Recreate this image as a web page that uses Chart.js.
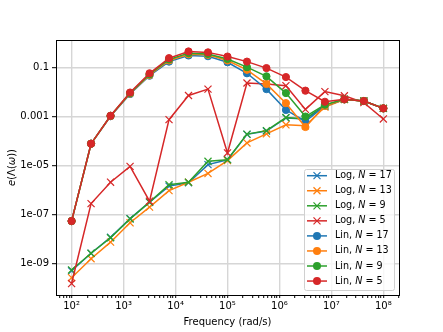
<!DOCTYPE html>
<html lang="en">
<head>
    <meta charset="UTF-8">
    <title>e(Λ(ω)) vs frequency</title>
    <script src="https://cdn.jsdelivr.net/npm/chart.js"></script>
    <style>
        html, body { margin: 0; padding: 0; background: #fff; }
        #wrap { width: 443px; height: 332px; position: relative; }
    </style>
</head>
<body>
    <div id="wrap"><canvas id="errChart" width="443" height="332"></canvas></div>

    <script>
        // Frequencies (rad/s), 17 points from 1e2 to 1e8
        const freq = [100, 237, 562, 1334, 3162, 7499, 17783, 42170, 100000, 237137, 562341,
                      1333521, 3162278, 7498942, 17782794, 42169650, 100000000];

        // Log-spaced sample sets
        const logN17 = [5.0e-10, 2.6e-9, 1.17e-8, 6.8e-8, 3.2e-7, 1.45e-6, 2.0e-6, 1.1e-5, 1.74e-5,
                        1.9e-4, 2.6e-4, 8.9e-4, 8.1e-4, 2.75e-3, 5.2e-3, 4.4e-3, 2.2e-3];
        const logN13 = [2.6e-10, 1.55e-9, 7.4e-9, 4.6e-8, 2.0e-7, 9.5e-7, 2.1e-6, 4.8e-6, 1.6e-5,
                        8.5e-5, 2.0e-4, 4.7e-4, 4.3e-4, 2.5e-3, 5.1e-3, 4.4e-3, 2.2e-3];
        const logN9  = [5.4e-10, 2.6e-9, 1.12e-8, 6.6e-8, 3.2e-7, 1.66e-6, 2.1e-6, 1.5e-5, 1.74e-5,
                        1.95e-4, 2.7e-4, 9.3e-4, 8.1e-4, 2.8e-3, 5.2e-3, 4.4e-3, 2.2e-3];
        const logN5  = [1.5e-10, 2.8e-7, 2.1e-6, 9.3e-6, 3.5e-7, 7.6e-4, 7.4e-3, 1.35e-2, 3.3e-5,
                        2.4e-2, 2.2e-2, 1.86e-2, 2.0e-3, 1.07e-2, 7.2e-3, 3.8e-3, 8.1e-4];

        // Linearly spaced sample sets
        const linN17 = [5.4e-8, 7.9e-5, 1.05e-3, 8.5e-3, 0.048, 0.18, 0.32, 0.30, 0.17,
                        0.060, 0.0135, 0.0019, 6.5e-4, 2.8e-3, 5.1e-3, 4.4e-3, 2.2e-3];
        const linN13 = [5.4e-8, 7.9e-5, 1.07e-3, 8.9e-3, 0.051, 0.20, 0.36, 0.34, 0.20,
                        0.083, 0.022, 0.0036, 3.8e-4, 2.8e-3, 5.1e-3, 4.4e-3, 2.2e-3];
        const linN9  = [5.4e-8, 7.9e-5, 1.1e-3, 9.3e-3, 0.055, 0.22, 0.40, 0.37, 0.23,
                        0.107, 0.045, 0.0093, 1.02e-3, 3.1e-3, 5.2e-3, 4.4e-3, 2.2e-3];
        const linN5  = [5.4e-8, 7.9e-5, 1.1e-3, 9.8e-3, 0.060, 0.25, 0.47, 0.43, 0.29,
                        0.18, 0.098, 0.042, 0.0117, 4.1e-3, 5.2e-3, 4.4e-3, 2.2e-3];

        // Axis ticks
        const xMajorTicks = [1e2, 1e3, 1e4, 1e5, 1e6, 1e7, 1e8];
        const xTickLabels = ['10²', '10³', '10⁴', '10⁵', '10⁶', '10⁷', '10⁸'];
        const yTicks = [1e-9, 1e-7, 1e-5, 1e-3, 1e-1];
        const yTickLabels = ['1e-09', '1e-07', '1e-05', '0.001', '0.1'];

        const BLUE = '#1f77b4', ORANGE = '#ff7f0e', GREEN = '#2ca02c', RED = '#d62728';
        const FONT = '"DejaVu Sans", sans-serif';

        // matplotlib plot order: first plotted is at the bottom
        const seriesDefs = [
            { kind: 'Log', n: 17, data: logN17, color: BLUE },
            { kind: 'Log', n: 13, data: logN13, color: ORANGE },
            { kind: 'Log', n: 9,  data: logN9,  color: GREEN },
            { kind: 'Log', n: 5,  data: logN5,  color: RED },
            { kind: 'Lin', n: 17, data: linN17, color: BLUE },
            { kind: 'Lin', n: 13, data: linN13, color: ORANGE },
            { kind: 'Lin', n: 9,  data: linN9,  color: GREEN },
            { kind: 'Lin', n: 5,  data: linN5,  color: RED }
        ];

        const datasets = seriesDefs.map((s, i) => ({
            label: s.kind + ', N = ' + s.n,
            data: freq.map((f, k) => ({ x: f, y: s.data[k] })),
            borderColor: s.color,
            backgroundColor: s.color,
            borderWidth: 1.5,
            pointStyle: s.kind === 'Log' ? 'crossRot' : 'circle',
            pointRadius: s.kind === 'Log' ? 5 : 3.6,
            pointBorderWidth: s.kind === 'Log' ? 1.2 : 1,
            pointBorderColor: s.color,
            pointBackgroundColor: s.color,
            pointHoverRadius: 0,
            fill: false,
            tension: 0,
            order: seriesDefs.length - i
        }));

        function isPow10(v) {
            const l = Math.log10(v);
            return Math.abs(l - Math.round(l)) < 1e-9;
        }

        // draws a run of [text, italic] pieces starting at x, returns end x
        function drawRuns(ctx, runs, x, y, size) {
            runs.forEach(([txt, it]) => {
                ctx.font = (it ? 'italic ' : '') + size + 'px ' + FONT;
                ctx.fillText(txt, x, y);
                x += ctx.measureText(txt).width;
            });
            return x;
        }

        // frame on all four sides, y title with math styling, legend inside the axes
        const framePlugin = {
            id: 'frameAndLegend',
            afterDraw(chart) {
                const ctx = chart.ctx;
                const a = chart.chartArea;
                ctx.save();
                ctx.strokeStyle = '#000';
                ctx.lineWidth = 1;
                ctx.strokeRect(Math.round(a.left) + 0.5, Math.round(a.top) + 0.5,
                               Math.round(a.right - a.left), Math.round(a.bottom - a.top));

                // y axis title: e(Λ(ω)) with italic e and ω
                const yRuns = [['e', true], ['(Λ(', false], ['ω', true], ['))', false]];
                ctx.fillStyle = '#000';
                ctx.textBaseline = 'middle';
                ctx.textAlign = 'left';
                let w = 0;
                yRuns.forEach(([txt, it]) => {
                    ctx.font = (it ? 'italic ' : '') + '10px ' + FONT;
                    w += ctx.measureText(txt).width;
                });
                ctx.save();
                ctx.translate(12, (a.top + a.bottom) / 2);
                ctx.rotate(-Math.PI / 2);
                drawRuns(ctx, yRuns, -w / 2, 0, 10);
                ctx.restore();

                // legend box
                const bx = 304, by = 169, bw = 90, bh = 121;
                ctx.fillStyle = 'rgba(255,255,255,0.8)';
                ctx.strokeStyle = '#d0d0d0';
                ctx.lineWidth = 1;
                ctx.beginPath();
                ctx.roundRect(bx + 0.5, by + 0.5, bw, bh, 2);
                ctx.fill();
                ctx.stroke();

                seriesDefs.forEach((s, i) => {
                    const y = 175.7 + i * 15.05;
                    ctx.strokeStyle = s.color;
                    ctx.fillStyle = s.color;
                    ctx.lineWidth = 1.5;
                    ctx.beginPath();
                    ctx.moveTo(307, y);
                    ctx.lineTo(327, y);
                    ctx.stroke();
                    if (s.kind === 'Log') {
                        const r = 3.5;
                        ctx.lineWidth = 1.2;
                        ctx.beginPath();
                        ctx.moveTo(317 - r, y - r); ctx.lineTo(317 + r, y + r);
                        ctx.moveTo(317 - r, y + r); ctx.lineTo(317 + r, y - r);
                        ctx.stroke();
                    } else {
                        ctx.beginPath();
                        ctx.arc(317, y, 4, 0, Math.PI * 2);
                        ctx.fill();
                    }
                    ctx.fillStyle = '#000';
                    ctx.textBaseline = 'middle';
                    ctx.textAlign = 'left';
                    drawRuns(ctx, [[s.kind + ', ', false], ['N', true], [' = ' + s.n, false]], 335, y, 9.6);
                });
                ctx.restore();
            }
        };

        new Chart(document.getElementById('errChart'), {
            type: 'line',
            data: { datasets: datasets },
            options: {
                responsive: false,
                animation: false,
                events: [],
                layout: { padding: { left: 12, right: 44, top: 40, bottom: 4 } },
                plugins: {
                    legend: { display: false },
                    tooltip: { enabled: false },
                    title: { display: false }
                },
                scales: {
                    x: {
                        type: 'logarithmic',
                        min: 50.1,
                        max: 2.0e8,
                        afterFit: (s) => { s.height = 33; },
                        afterBuildTicks: (s) => {
                            const t = [];
                            for (let e = 1; e <= 8; e++) {
                                for (let m = 1; m <= 9; m++) {
                                    const v = m * Math.pow(10, e);
                                    if (v >= s.min && v <= s.max) t.push({ value: v, major: m === 1 });
                                }
                            }
                            s.ticks = t;
                        },
                        ticks: {
                            autoSkip: false,
                            maxRotation: 0,
                            minRotation: 0,
                            padding: 2,
                            color: '#000',
                            font: { family: FONT, size: 10 },
                            callback: (v) => {
                                const idx = xMajorTicks.findIndex(t => Math.abs(t - v) / t < 1e-6);
                                return idx >= 0 ? xTickLabels[idx] : '';
                            }
                        },
                        grid: {
                            color: (c) => (c.tick && isPow10(c.tick.value)) ? '#d6d6d6' : 'rgba(0,0,0,0)',
                            lineWidth: 1.4,
                            tickColor: '#000',
                            tickLength: 3,
                            tickWidth: 1
                        },
                        border: { display: true, color: '#000', width: 1 },
                        title: {
                            display: true,
                            text: 'Frequency (rad/s)',
                            color: '#000',
                            font: { family: FONT, size: 10 },
                            padding: { top: 0, bottom: 0 }
                        }
                    },
                    y: {
                        type: 'logarithmic',
                        min: 5.1e-11,
                        max: 1.38,
                        afterFit: (s) => { s.width = 44; },
                        afterBuildTicks: (s) => {
                            s.ticks = yTicks.map(v => ({ value: v, major: true }));
                        },
                        ticks: {
                            autoSkip: false,
                            padding: 3,
                            color: '#000',
                            font: { family: FONT, size: 10 },
                            callback: (v) => {
                                const idx = yTicks.findIndex(t => Math.abs(t - v) / t < 1e-6);
                                return idx >= 0 ? yTickLabels[idx] : '';
                            }
                        },
                        grid: {
                            color: '#d6d6d6',
                            lineWidth: 1.4,
                            tickColor: '#000',
                            tickLength: 4,
                            tickWidth: 1
                        },
                        border: { display: true, color: '#000', width: 1 },
                        title: { display: false }
                    }
                }
            },
            plugins: [framePlugin]
        });
    </script>
</body>
</html>
